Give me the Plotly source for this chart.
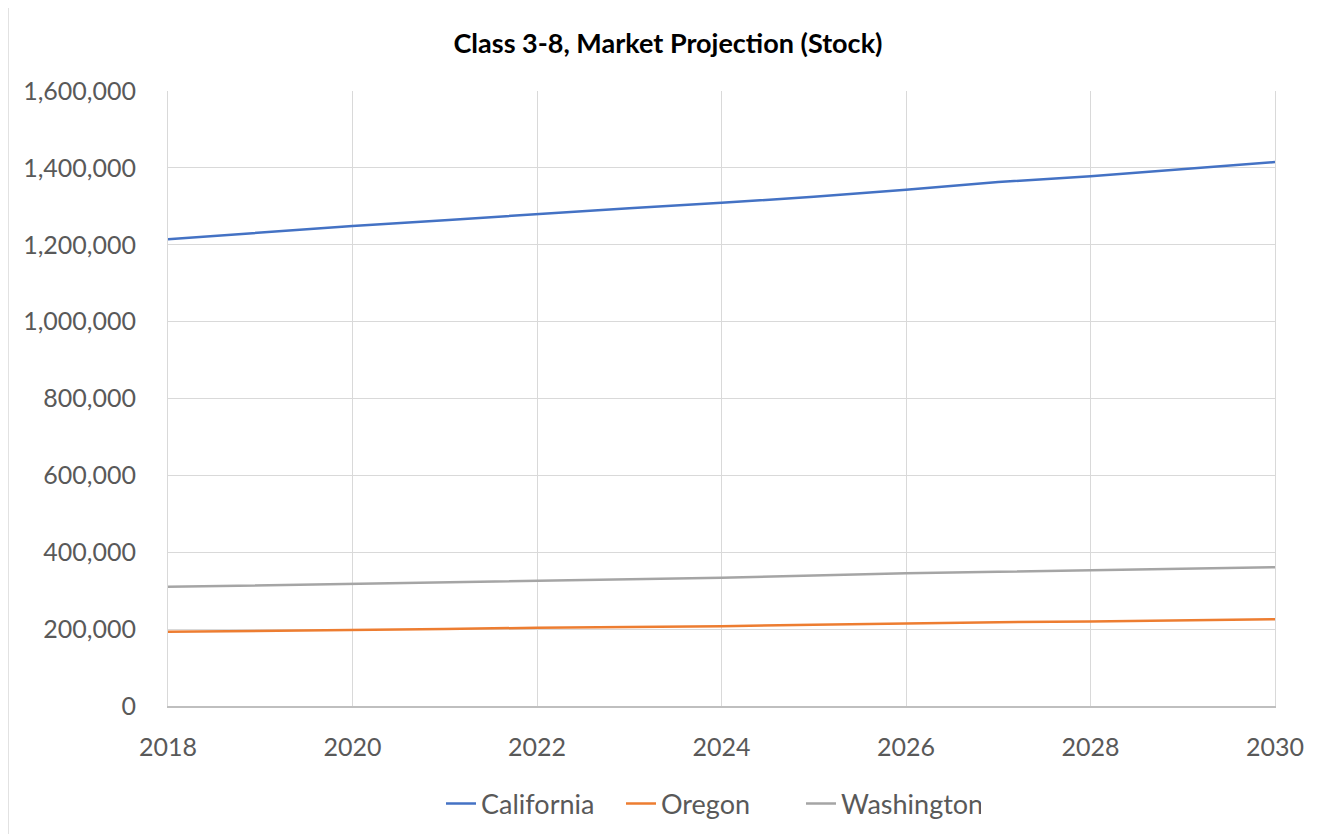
import plotly.graph_objects as go

years = list(range(2018, 2031))
california = [1214000, 1231000, 1249000, 1264000, 1280000, 1295000, 1309000,
              1325000, 1343000, 1363000, 1378000, 1397000, 1415000]
oregon = [193000, 195000, 197500, 200500, 203500, 205500, 207500,
          211500, 215500, 218000, 220000, 223000, 226000]
washington = [310000, 314000, 318500, 322000, 325500, 329500, 333500,
              339500, 345500, 349000, 352500, 357000, 361000]
series_names = ["California", "Oregon", "Washington"]
colors = ["#4472C4", "#ED7D31", "#A5A5A5"]

FONT = "Lato, 'Open Sans', sans-serif"

# page body adds 8px offset; plot area in the picture is x 168-1275, y 91-706
L, T = 160, 83
PW, PH = 1107, 615

fig = go.Figure()
for name, vals, col in zip(series_names, [california, oregon, washington], colors):
    fig.add_trace(go.Scatter(x=years, y=vals, mode="lines", name=name,
                             line=dict(color=col, width=2.5)))

fig.update_layout(
    width=1329, height=834,
    margin=dict(l=L, r=1329 - L - PW, t=T, b=834 - T - PH),
    paper_bgcolor="white", plot_bgcolor="white",
    font=dict(family=FONT, color="#595959", size=25),
    title=dict(text="<b>Class 3-8, Market Projection (Stock)</b>",
               x=(668 - 8) / 1329, xanchor="center", y=1 - 36 / 834, yanchor="middle",
               font=dict(family=FONT, size=27, color="#000000")),
    legend=dict(orientation="h", x=(711 - 8 - L) / PW, xanchor="center",
                y=(706 - 804) / PH, yanchor="middle",
                font=dict(family=FONT, size=27, color="#595959"),
                itemwidth=30, tracegroupgap=0, entrywidth=135, entrywidthmode="pixels"),
    showlegend=True,
)
fig.update_xaxes(range=[2018, 2030], dtick=2, tick0=2018, showgrid=True,
                 gridcolor="#D9D9D9", gridwidth=1, zeroline=False,
                 showline=True, linecolor="#BFBFBF", linewidth=1.5,
                 ticks="", ticklabelstandoff=18,
                 tickfont=dict(family=FONT, size=25, color="#595959"))
fig.update_yaxes(range=[0, 1600000], dtick=200000, showgrid=True,
                 gridcolor="#D9D9D9", gridwidth=1, zeroline=False,
                 showline=True, linecolor="#D9D9D9", linewidth=1, mirror=True,
                 tickformat=",d", ticks="", ticklabelstandoff=26,
                 tickfont=dict(family=FONT, size=25, color="#595959"))

# outer chart frame (bottom edge runs off the picture)
fig.add_shape(type="rect", xref="paper", yref="paper",
              x0=(8 - 168) / PW, x1=(1326 - 168) / PW,
              y0=(706 - 850) / PH, y1=(706 - 7) / PH,
              line=dict(color="#D9D9D9", width=1.5), fillcolor="rgba(0,0,0,0)",
              layer="below")

fig.write_html("out.html")
